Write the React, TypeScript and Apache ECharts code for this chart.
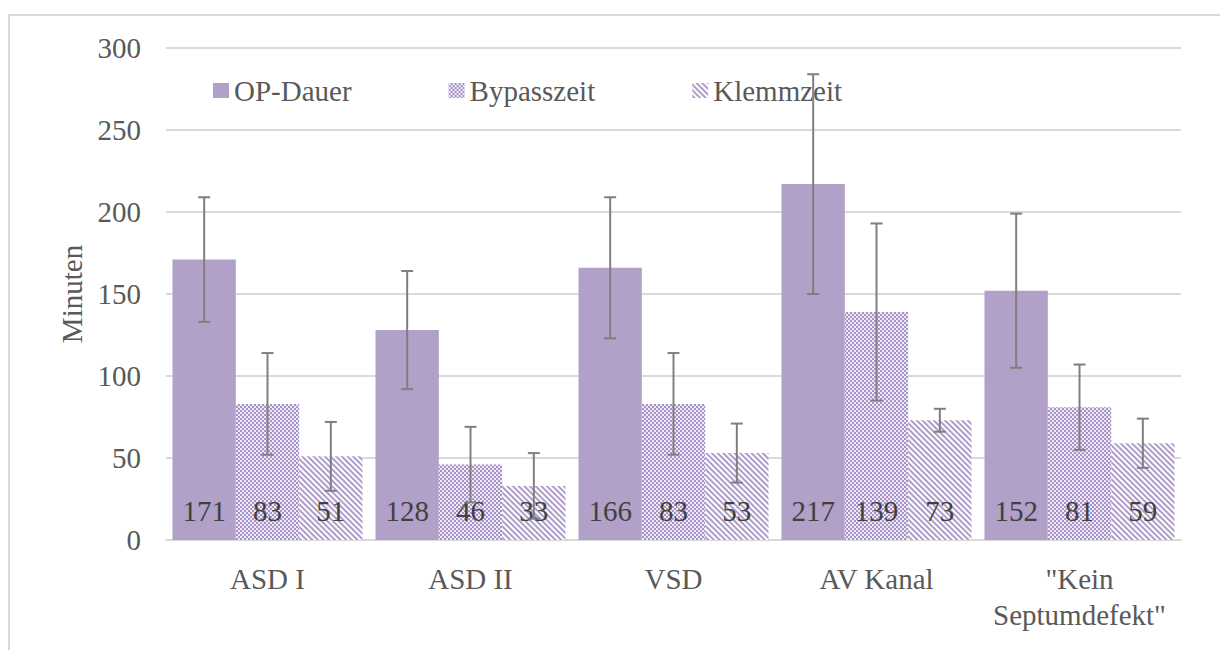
import React, { useEffect, useRef } from "react";
import * as echarts from "echarts";

const categories = ["ASD I", "ASD II", "VSD", "AV Kanal", "\"Kein\nSeptumdefekt\""];
const seriesNames = ["OP-Dauer", "Bypasszeit", "Klemmzeit"];
const opDauer = [171, 128, 166, 217, 152];
const bypasszeit = [83, 46, 83, 139, 81];
const klemmzeit = [51, 33, 53, 73, 59];
const opErr = [38, 36, 43, 67, 47];
const bypassErr = [31, 23, 31, 54, 26];
const klemmErr = [21, 20, 18, 7, 15];
const yTicks = [0, 50, 100, 150, 200, 250, 300];

const FONT = "Liberation Serif";
const FS = 29;
const GAP = 0.064;

export default function App() {
  const ref = useRef<HTMLDivElement>(null);
  useEffect(() => {
    if (!ref.current) return;
    const chart = echarts.init(ref.current, null, { renderer: "svg" });
    const values = [opDauer, bypasszeit, klemmzeit];
    const errs = [opErr, bypassErr, klemmErr];
    const baseColors = ["#B1A0C7", "#EDE8F3", "#FFFFFF"];
    const decals: any[] = [
      undefined,
      {
        symbol: "rect",
        symbolSize: 1,
        color: "#A893C8",
        dashArrayX: [[1.5, 1.5], [0, 1.5, 1.5, 0]],
        dashArrayY: [1.5, 0],
      },
      {
        symbol: "rect",
        symbolSize: 1,
        color: "#AE9CCB",
        dashArrayX: [1, 0],
        dashArrayY: [1.3, 1.6],
        rotation: Math.PI / 4,
      },
    ];

    const barSeries = values.map((v, k) => ({
      type: "bar",
      name: seriesNames[k],
      data: v,
      barGap: "0%",
      barCategoryGap: GAP * 100 + "%",
      itemStyle: decals[k]
        ? { color: baseColors[k], decal: decals[k] }
        : { color: baseColors[k] },
      label: {
        show: true,
        position: "insideBottom",
        distance: 15,
        fontSize: FS,
        fontFamily: FONT,
        color: "#404040",
      },
      z: 2,
    }));

    const errSeries = values.map((v, k) => ({
      type: "custom",
      name: "err" + k,
      z: 10,
      data: v.map((m, i) => [i, m - errs[k][i], m + errs[k][i]]),
      encode: { x: 0, y: [1, 2] },
      renderItem: (params: any, api: any) => {
        const cat = api.value(0);
        const lo = api.coord([cat, api.value(1)]);
        const hi = api.coord([cat, api.value(2)]);
        const bandW = api.size([1, 0])[0];
        const bw = (bandW * (1 - GAP)) / 3;
        const x = lo[0] + (k - 1) * bw;
        const cap = 6;
        const style = { stroke: "#7F7F7F", lineWidth: 2 };
        return {
          type: "group",
          children: [
            { type: "line", shape: { x1: x, y1: lo[1], x2: x, y2: hi[1] }, style },
            { type: "line", shape: { x1: x - cap, y1: lo[1], x2: x + cap, y2: lo[1] }, style },
            { type: "line", shape: { x1: x - cap, y1: hi[1], x2: x + cap, y2: hi[1] }, style },
          ],
        };
      },
    }));

    chart.setOption({
      animation: false,
      textStyle: { fontFamily: FONT },
      graphic: [
        {
          type: "rect",
          shape: { x: 9, y: 15, width: 1400, height: 900 },
          style: { fill: "none", stroke: "#D9D9D9", lineWidth: 2 },
          silent: true,
        },
      ],
      legend: {
        data: seriesNames,
        left: 213,
        top: 76,
        padding: 0,
        icon: "rect",
        itemWidth: 16,
        itemHeight: 15,
        itemGap: 97,
        textStyle: { fontSize: FS, color: "#595959", fontFamily: FONT },
      },
      grid: { left: 166, right: 39, top: 48, bottom: 110 },
      xAxis: {
        type: "category",
        data: categories,
        axisLine: { lineStyle: { color: "#D9D9D9", width: 2 } },
        axisTick: { show: false },
        axisLabel: {
          fontSize: FS,
          color: "#595959",
          fontFamily: FONT,
          margin: 21,
          lineHeight: 36,
          interval: 0,
        },
      },
      yAxis: {
        type: "value",
        min: yTicks[0],
        max: yTicks[yTicks.length - 1],
        interval: 50,
        name: "Minuten",
        nameLocation: "middle",
        nameGap: 78,
        nameTextStyle: { fontSize: FS, color: "#595959", fontFamily: FONT },
        axisLine: { show: false },
        axisTick: { show: false },
        splitLine: { lineStyle: { color: "#D9D9D9", width: 2 } },
        axisLabel: { fontSize: FS, color: "#595959", fontFamily: FONT, margin: 25 },
      },
      series: [...barSeries, ...errSeries],
    });
    return () => chart.dispose();
  }, []);
  return (
    <div
      ref={ref}
      style={{ position: "absolute", left: 0, top: 0, width: 1220, height: 650, background: "#fff" }}
    />
  );
}
